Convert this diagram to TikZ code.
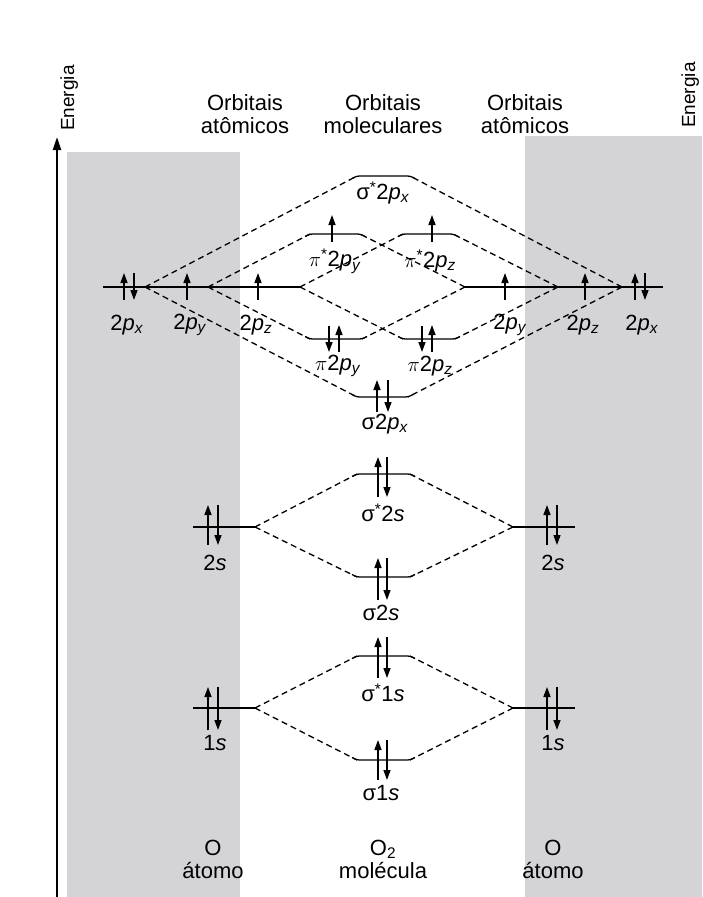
\documentclass[tikz,border=0pt]{standalone}
\usepackage{fontspec}
\setmainfont{Liberation Sans}
\usetikzlibrary{positioning,arrows.meta,calc}
\definecolor{bandgray}{RGB}{212,212,215}
\tikzset{
  band/.style={fill=bandgray, draw=none},
  lvl/.style={line width=1.3pt, rounded corners=2.5pt},
  link/.style={line width=1.3pt, dash pattern=on 6pt off 4pt},
  elec/.style={line width=1.4pt, -{Triangle[length=10pt,width=7pt]}},
  axis/.style={line width=2pt, -{Triangle[length=13pt,width=8pt]}},
  lbl/.style={font=\fontsize{22}{24}\selectfont, inner sep=0pt},
  side/.style={font=\fontsize{19}{21}\selectfont, inner sep=0pt},
  head/.style={font=\fontsize{22}{23}\selectfont, align=center, inner sep=0pt}
}
% molecular level: name, x1, x2, y, bend (1 = ends down, -1 = ends up)
\newcommand{\molvl}[5]{%
  \coordinate (#1-l) at (#2,#4);
  \coordinate (#1-r) at (#3,#4);
  \draw[lvl] ($(#1-l)+(-5,2.5*#5)$) -- (#1-l) -- (#1-r) -- ($(#1-r)+(5,2.5*#5)$);}
% atomic level: name, x1, x2, y
\newcommand{\atlvl}[4]{%
  \coordinate (#1-l) at (#2,#4);
  \coordinate (#1-r) at (#3,#4);
  \draw[line width=1.3pt] (#1-l) -- (#1-r);}
\newcommand{\elec}[3]{\draw[elec] (#1,#2) -- (#1,#3);}
\newcommand{\tp}[1]{2\textit{p}\textsubscript{\textit{#1}}}
\newcommand{\sstar}{σ\textsuperscript{*}}
\newcommand{\pstar}{$\pi$\textsuperscript{*}}

\begin{document}
\begin{tikzpicture}[x=1pt,y=-1pt]
  \useasboundingbox (0,0) rectangle (702,897);
  % shaded columns
  \fill[band] (67,152) rectangle (240,897);
  \fill[band] (525,136) rectangle (702,897);

  % energy axis
  \coordinate (ax-0) at (57,897);
  \coordinate (ax-1) at (57,137);
  \draw[axis] (ax-0) -- (ax-1);
  \node[side, rotate=90, anchor=base west] (energiaL) at (74,131) {Energia};
  \node[side, rotate=90, anchor=base west] (energiaR) at (695,128) {Energia};

  % headings
  \node[head] (hd-atL) at (245,114) {Orbitais\\atômicos};
  \node[head] (hd-mol) at (383,114) {Orbitais\\moleculares};
  \node[head] (hd-atR) at (525,114) {Orbitais\\atômicos};

  % 2p atomic levels
  \atlvl{p2L}{103}{300}{287}
  \atlvl{p2R}{465}{663}{287}
  \coordinate (pxL) at (145,287);
  \coordinate (pyL) at (208,287);
  \coordinate (pzL) at (300,287);
  \coordinate (pyR) at (465,287);
  \coordinate (pzR) at (558,287);
  \coordinate (pxR) at (622,287);

  % 2p molecular levels
  \molvl{sxa}{357}{410}{176}{1}
  \molvl{pya}{310}{360}{234}{1}
  \molvl{pza}{403}{453}{234}{1}
  \molvl{pyb}{310}{362}{339}{-1}
  \molvl{pzb}{403}{455}{339}{-1}
  \molvl{sxb}{357}{408}{397}{-1}

  \draw[link] (pxL) -- (sxa-l);
  \draw[link] (pxL) -- (sxb-l);
  \draw[link] (pyL) -- (pya-l);
  \draw[link] (pyL) -- (pyb-l);
  \draw[link] (pzL) -- (pza-l);
  \draw[link] (pzL) -- (pzb-l);
  \draw[link] (pyR) -- (pya-r);
  \draw[link] (pyR) -- (pyb-r);
  \draw[link] (pzR) -- (pza-r);
  \draw[link] (pzR) -- (pzb-r);
  \draw[link] (pxR) -- (sxa-r);
  \draw[link] (pxR) -- (sxb-r);

  % 2s levels
  \atlvl{s2L}{193}{255}{527}
  \atlvl{s2R}{513}{575}{527}
  \molvl{s2a}{357}{410}{474}{1}
  \molvl{s2b}{357}{410}{577}{-1}
  \draw[link] (s2L-r) -- (s2a-l);
  \draw[link] (s2L-r) -- (s2b-l);
  \draw[link] (s2R-l) -- (s2a-r);
  \draw[link] (s2R-l) -- (s2b-r);

  % 1s levels
  \atlvl{s1L}{193}{255}{708}
  \atlvl{s1R}{513}{575}{708}
  \molvl{s1a}{357}{410}{656}{1}
  \molvl{s1b}{357}{410}{760}{-1}
  \draw[link] (s1L-r) -- (s1a-l);
  \draw[link] (s1L-r) -- (s1b-l);
  \draw[link] (s1R-l) -- (s1a-r);
  \draw[link] (s1R-l) -- (s1b-r);

  % electrons
  \elec{124}{300}{273} \elec{134}{273}{300}
  \elec{187}{300}{273} \elec{258}{300}{273}
  \elec{505}{300}{273} \elec{585}{300}{273}
  \elec{635}{300}{273} \elec{645}{273}{300}
  \elec{332}{242}{215} \elec{432}{242}{215}
  \elec{329}{326}{352} \elec{339}{352}{325}
  \elec{422}{326}{352} \elec{432}{352}{325}
  \elec{377}{412}{380} \elec{388}{380}{412}
  \foreach \ya/\yb in {497/457, 600/558, 678/637, 780/740}{
    \elec{378}{\ya}{\yb} \elec{387}{\yb}{\ya}
  }
  \foreach \x in {208, 547}{
    \elec{\x}{545}{505} \elec{\x+10}{505}{545}
    \elec{\x}{730}{687} \elec{\x+10}{687}{730}
  }

  % labels
  \node[lbl] (t-pxL) at (127,325) {\tp{x}};
  \node[lbl] (t-pyL) at (190,325) {\tp{y}};
  \node[lbl] (t-pzL) at (256,325) {\tp{z}};
  \node[lbl] (t-pyR) at (510,325) {\tp{y}};
  \node[lbl] (t-pzR) at (583,325) {\tp{z}};
  \node[lbl] (t-pxR) at (642,325) {\tp{x}};
  \node[lbl] (t-sxa) at (383,193) {\sstar\tp{x}};
  \node[lbl] (t-pya) at (335,261) {\pstar\tp{y}};
  \node[lbl] (t-pza) at (430,261) {\pstar\tp{z}};
  \node[lbl] (t-pyb) at (338,366) {$\pi$\tp{y}};
  \node[lbl] (t-pzb) at (430,366) {$\pi$\tp{z}};
  \node[lbl] (t-sxb) at (385,424) {σ\tp{x}};
  \node[lbl] (t-s2a) at (383,513) {\sstar2\textit{s}};
  \node[lbl] (t-s2L) at (215,563) {2\textit{s}};
  \node[lbl] (t-s2R) at (553,563) {2\textit{s}};
  \node[lbl] (t-s2b) at (381,613) {σ2\textit{s}};
  \node[lbl] (t-s1a) at (383,693) {\sstar1\textit{s}};
  \node[lbl] (t-s1L) at (215,743) {1\textit{s}};
  \node[lbl] (t-s1R) at (553,743) {1\textit{s}};
  \node[lbl] (t-s1b) at (381,793) {σ1\textit{s}};

  \node[head] (ft-atL) at (213,859) {O\\átomo};
  \node[head] (ft-mol) at (383,859) {O\textsubscript{2}\\molécula};
  \node[head] (ft-atR) at (553,859) {O\\átomo};
\end{tikzpicture}
\end{document}
